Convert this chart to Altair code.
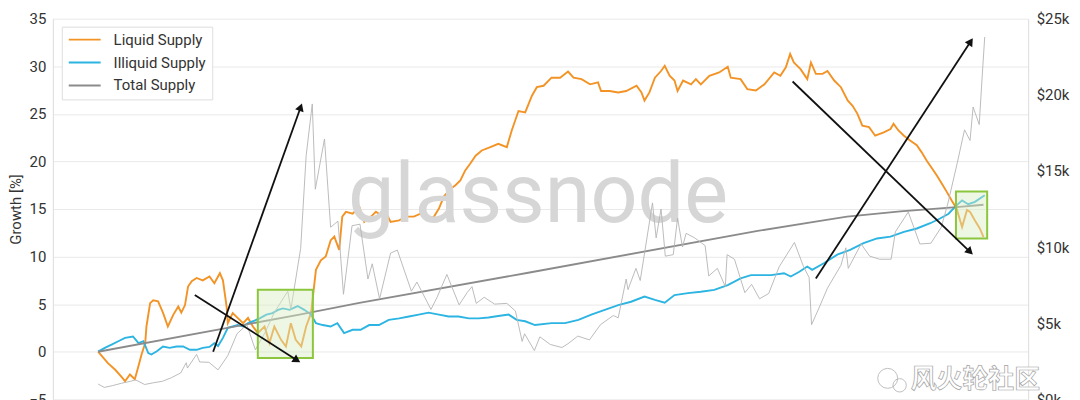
import altair as alt
import pandas as pd

START = pd.Timestamp("2017-01-01")

SERIES = ["Liquid Supply", "Illiquid Supply", "Total Supply"]
COLORS = ["#f39325", "#2cb4e2", "#8b8b8b"]
WIDTHS = [1.9, 1.9, 1.5]

# Liquid supply growth [%], sampled by day offset from 2017-01-01
LIQ_DAY = [0, 8, 16, 28, 39, 44, 52, 60, 66, 71,
           77, 79, 85, 90, 98, 106, 114, 123, 131, 136,
           142, 147, 153, 161, 171, 182, 190, 199, 204, 210,
           212, 220, 228, 237, 245, 253, 261, 272, 280, 288,
           299, 307, 315, 323, 332, 340, 348, 356, 364, 372,
           380, 386, 394, 399, 405, 416, 427, 435, 446, 454,
           462, 470, 478, 492, 503, 516, 527, 538, 549, 557,
           565, 576, 584, 592, 600, 608, 617, 627, 641, 654,
           668, 676, 687, 698, 709, 717, 728, 741, 755, 768,
           777, 790, 804, 817, 822, 836, 850, 863, 880, 888,
           893, 901, 910, 920, 926, 934, 942, 947, 956, 969,
           977, 985, 999, 1015, 1029, 1034, 1050, 1061, 1075, 1089,
           1105, 1115, 1124, 1131, 1137, 1148, 1159, 1165, 1173, 1184,
           1192, 1203, 1214, 1225, 1233, 1241, 1249, 1260, 1270, 1284,
           1295, 1300, 1308, 1317, 1327, 1338, 1346, 1354, 1363, 1371,
           1379, 1387, 1395, 1403, 1412, 1420, 1425, 1433, 1441, 1447]
LIQ_VAL = [0.0, -0.6, -1.2, -1.9, -2.7, -3.1, -2.4, -2.9, -1.5, -0.3,
           0.9, 2.65, 5.1, 5.4, 5.3, 4.1, 2.65, 3.9, 4.75, 4.1,
           4.9, 6.85, 7.4, 7.75, 7.5, 7.9, 7.2, 8.25, 7.5, 4.75,
           3.0, 4.05, 3.55, 3.0, 3.55, 2.65, 1.95, 2.65, 0.9, 2.65,
           1.25, 0.55, 3.0, 1.25, 0.55, 2.65, 4.05, 8.6, 9.6, 10.0,
           11.7, 12.1, 10.7, 14.2, 14.7, 14.5, 15.2, 13.65, 14.2, 14.7,
           14.35, 14.7, 13.65, 13.8, 14.2, 14.2, 14.5, 13.8, 14.2, 15.05,
           16.3, 17.1, 17.5, 18.0, 19.05, 19.75, 20.6, 21.15, 21.5, 21.85,
           21.5, 23.25, 25.3, 25.15, 26.9, 27.8, 27.95, 28.8, 28.8, 29.45,
           28.8, 28.65, 28.1, 28.3, 27.4, 27.4, 27.25, 27.4, 27.95, 27.25,
           26.4, 27.25, 28.8, 29.5, 30.05, 29.0, 28.5, 27.4, 28.5, 28.1,
           28.65, 28.1, 29.0, 29.35, 29.95, 28.8, 28.65, 27.6, 27.45, 28.1,
           29.35, 29.0, 29.9, 31.3, 30.4, 29.7, 28.65, 30.4, 29.2, 29.2,
           29.5, 28.5, 27.8, 26.4, 25.85, 25.0, 23.75, 23.6, 22.7, 23.05,
           23.4, 23.95, 23.25, 22.7, 22.2, 21.7, 20.95, 20.1, 19.25, 18.5,
           17.65, 16.8, 15.9, 15.05, 13.1, 14.9, 14.7, 13.8, 12.95, 12.05]

# Illiquid supply growth [%]
ILL_DAY = [0, 11, 22, 33, 44, 57, 66, 74, 82, 87,
           96, 106, 117, 128, 139, 150, 161, 171, 182, 190,
           196, 204, 212, 220, 228, 237, 245, 253, 264, 275,
           285, 294, 302, 313, 326, 337, 348, 356, 367, 380,
           391, 402, 416, 429, 443, 459, 475, 492, 508, 524,
           540, 557, 573, 589, 606, 622, 638, 654, 671, 684,
           698, 714, 741, 763, 785, 806, 828, 850, 871, 893,
           910, 926, 942, 964, 985, 1007, 1029, 1050, 1067, 1100,
           1121, 1132, 1146, 1159, 1167, 1186, 1208, 1229, 1251, 1273,
           1295, 1317, 1338, 1360, 1376, 1390, 1400, 1412, 1422, 1433, 1449]
ILL_VAL = [0.0, 0.4, 0.75, 1.1, 1.45, 1.6, 0.9, 1.1, -0.15, -0.3,
           0.05, 0.55, 0.4, 0.55, 0.55, 0.2, 0.2, 0.4, 0.5, 0.9,
           0.6, 1.45, 2.5, 2.65, 2.8, 2.65, 3.0, 3.2, 3.5, 3.9,
           4.05, 4.4, 4.55, 4.4, 4.8, 4.4, 3.9, 3.0, 2.8, 2.65,
           3.0, 1.95, 2.3, 2.3, 2.8, 2.8, 3.35, 3.5, 3.7, 3.9,
           4.1, 3.9, 3.7, 3.7, 3.5, 3.5, 3.6, 3.75, 3.9, 3.35,
           3.2, 2.8, 3.0, 3.0, 3.35, 3.9, 4.4, 4.9, 5.25, 5.8,
           5.45, 5.15, 5.95, 6.15, 6.3, 6.5, 7.0, 7.7, 8.05, 8.05,
           8.25, 7.9, 8.4, 8.95, 8.6, 9.3, 10.2, 10.7, 11.4, 11.9,
           12.1, 12.6, 12.95, 13.5, 14.0, 14.5, 15.2, 15.9, 15.5, 15.75, 16.45]

# Total supply growth [%]
TOT_DAY = [0, 329, 427, 703, 1078, 1175, 1224, 1311, 1403, 1447]
TOT_VAL = [0.0, 3.9, 5.13, 8.3, 12.7, 13.7, 14.2, 14.75, 15.2, 15.45]

# BTC price [USD] (right axis)
PRICE_DATE = ["2017-01-01", "2017-01-11", "2017-01-25", "2017-02-08", "2017-02-23",
              "2017-03-03", "2017-03-18", "2017-04-01", "2017-04-16", "2017-05-01",
              "2017-05-16", "2017-05-25", "2017-05-27", "2017-06-11", "2017-06-16",
              "2017-07-01", "2017-07-16", "2017-08-01", "2017-08-16", "2017-09-01",
              "2017-09-15", "2017-10-01", "2017-10-16", "2017-11-07", "2017-11-12",
              "2017-11-28", "2017-12-07", "2017-12-17", "2017-12-22", "2018-01-06",
              "2018-01-16", "2018-01-28", "2018-02-06", "2018-02-20", "2018-03-05",
              "2018-03-18", "2018-03-25", "2018-04-06", "2018-04-24", "2018-05-05",
              "2018-05-28", "2018-06-06", "2018-06-29", "2018-07-09", "2018-07-25",
              "2018-08-14", "2018-08-27", "2018-09-04", "2018-09-11", "2018-09-24",
              "2018-10-11", "2018-10-31", "2018-11-14", "2018-11-25", "2018-11-29",
              "2018-12-15", "2018-12-24", "2019-01-10", "2019-01-29", "2019-02-08",
              "2019-02-24", "2019-03-15", "2019-04-02", "2019-04-23", "2019-05-01",
              "2019-05-14", "2019-05-17", "2019-05-30", "2019-06-06", "2019-06-26",
              "2019-07-02", "2019-07-10", "2019-07-17", "2019-07-30", "2019-08-06",
              "2019-08-14", "2019-08-20", "2019-09-03", "2019-09-20", "2019-09-26",
              "2019-10-10", "2019-10-23", "2019-10-26", "2019-11-07", "2019-11-24",
              "2019-12-05", "2019-12-18", "2020-01-02", "2020-01-19", "2020-02-13",
              "2020-02-28", "2020-03-08", "2020-03-12", "2020-03-22", "2020-04-07",
              "2020-04-29", "2020-05-07", "2020-05-11", "2020-06-01", "2020-06-15",
              "2020-07-01", "2020-07-20", "2020-07-27", "2020-08-17", "2020-09-05",
              "2020-09-23", "2020-10-10", "2020-10-21", "2020-11-05", "2020-11-17",
              "2020-11-26", "2020-12-01", "2020-12-11", "2020-12-16", "2020-12-20"]
PRICE_USD = [1000, 780, 900, 1050, 1180,
             1280, 970, 1080, 1180, 1420,
             1730, 2400, 2050, 2950, 2450,
             2430, 1930, 2870, 4300, 4900,
             3250, 4400, 5700, 7100, 5900,
             9900, 16000, 19400, 13800, 17100,
             11300, 11700, 6900, 11400, 11500,
             7900, 8900, 6600, 9600, 9800,
             7100, 7700, 5900, 6700, 8200,
             6200, 7000, 7400, 6300, 6700,
             6250, 6300, 5800, 3800, 4300,
             3200, 4100, 3600, 3400, 3650,
             4150, 3900, 4900, 5500, 5350,
             7900, 7200, 8600, 7800, 12900,
             10600, 12500, 9400, 9500, 11900,
             10000, 10900, 10600, 10100, 8100,
             8600, 7400, 9500, 9200, 7000,
             7550, 6600, 6950, 8700, 10300,
             8700, 8000, 4900, 5800, 7300,
             8800, 9950, 8600, 10200, 9400,
             9200, 9200, 11000, 12300, 10200,
             10250, 11300, 12900, 15500, 17700,
             17000, 19200, 18050, 21300, 23800]

# Highlight boxes (day offsets and growth bounds)
BOX_START_DAY = [261, 1402]
BOX_END_DAY = [351, 1453]
BOX_LOW = [-0.65, 11.9]
BOX_HIGH = [6.5, 16.85]

# Arrows (day offsets and growth values)
ARROW_START_DAY = [188, 158, 1135, 1173]
ARROW_END_DAY = [331, 325, 1425, 1426]
ARROW_START_VAL = [0.0, 5.97, 28.4, 7.7]
ARROW_END_VAL = [25.7, -0.9, 10.5, 32.6]
ARROW_ANGLE = [19.8, 122.4, 133.8, 33.2]


def from_days(days):
    return [START + pd.Timedelta(days=int(d)) for d in days]


lines_df = pd.concat([
    pd.DataFrame({"date": from_days(LIQ_DAY), "value": LIQ_VAL, "series": SERIES[0]}),
    pd.DataFrame({"date": from_days(ILL_DAY), "value": ILL_VAL, "series": SERIES[1]}),
    pd.DataFrame({"date": from_days(TOT_DAY), "value": TOT_VAL, "series": SERIES[2]}),
], ignore_index=True)
price_df = pd.DataFrame({"date": pd.to_datetime(PRICE_DATE), "price": PRICE_USD})
box_df = pd.DataFrame({"start": from_days(BOX_START_DAY), "end": from_days(BOX_END_DAY),
                       "low": BOX_LOW, "high": BOX_HIGH})
arrow_df = pd.DataFrame({"start": from_days(ARROW_START_DAY), "end": from_days(ARROW_END_DAY),
                         "y0": ARROW_START_VAL, "y1": ARROW_END_VAL, "angle": ARROW_ANGLE})

x_scale = alt.Scale(domain=[alt.DateTime(year=2016, month=10, date=19),
                            alt.DateTime(year=2021, month=3, date=1)])


def y_scale():
    return alt.Scale(domain=[-5, 35], nice=False)


lines = alt.Chart(lines_df).mark_line().encode(
    x=alt.X("date:T", scale=x_scale, axis=None),
    y=alt.Y("value:Q", scale=y_scale(),
            axis=alt.Axis(orient="left", values=list(range(-5, 40, 5)), title="Growth [%]",
                          grid=True, labelPadding=7, titlePadding=5, titleFontSize=15,
                          titleFont="Roboto", titleFontWeight="normal",
                          titleColor="#333333")),
    color=alt.Color("series:N", scale=alt.Scale(domain=SERIES, range=COLORS),
                    legend=alt.Legend(title=None, orient="none", legendX=9, legendY=8,
                                      symbolType="stroke", symbolSize=1024,
                                      symbolStrokeWidth=1.6, clipHeight=14, rowPadding=8,
                                      labelFont="Roboto", labelFontSize=15,
                                      labelColor="#333333", labelOffset=12, padding=6,
                                      strokeColor="#dedede", fillColor="#ffffff")),
    strokeWidth=alt.StrokeWidth("series:N", scale=alt.Scale(domain=SERIES, range=WIDTHS),
                                legend=None),
)

price = alt.Chart(price_df).mark_line(color="#b4b4b4", strokeWidth=0.9).encode(
    x=alt.X("date:T", scale=x_scale, axis=None),
    y=alt.Y("price:Q", scale=alt.Scale(domain=[0, 25000], nice=False),
            axis=alt.Axis(orient="right", values=[0, 5000, 10000, 15000, 20000, 25000],
                          format="$~s", title=None, grid=False, labelPadding=8)),
)

boxes = alt.Chart(box_df).mark_rect(fill="#d8eec0", fillOpacity=0.45, stroke="#8cc63e",
                                    strokeWidth=2).encode(
    x=alt.X("start:T", scale=x_scale, axis=None), x2="end:T",
    y=alt.Y("low:Q", scale=y_scale(), axis=None), y2="high:Q",
)

arrows = alt.Chart(arrow_df).mark_rule(color="#111111", strokeWidth=1.8).encode(
    x=alt.X("start:T", scale=x_scale, axis=None), x2="end:T",
    y=alt.Y("y0:Q", scale=y_scale(), axis=None), y2="y1:Q",
)

heads = alt.Chart(arrow_df).mark_point(shape="triangle-up", filled=True, color="#111111",
                                       size=80, opacity=1).encode(
    x=alt.X("end:T", scale=x_scale, axis=None),
    y=alt.Y("y1:Q", scale=y_scale(), axis=None),
    angle=alt.Angle("angle:Q", scale=None),
)

watermark = alt.Chart(pd.DataFrame({"t": ["glassnode"]})).mark_text(
    font="Roboto", fontSize=83, fontWeight="normal", color="#d6d6d6",
    align="center", baseline="alphabetic").encode(
    text="t:N", x=alt.value(487), y=alt.value(203.7))

wechat = alt.Chart(pd.DataFrame({"t": ["风火轮社区"]})).mark_text(
    font="Noto Sans CJK SC", fontSize=26, fontWeight="bold", fill="#ffffff",
    stroke="#a3a3a3", strokeWidth=0.7, align="center", baseline="middle").encode(
    text="t:N", x=alt.value(926), y=alt.value(362.5))

icon_big = alt.Chart(pd.DataFrame({"k": [0]})).mark_point(
    shape="circle", filled=False, stroke="#a5a5a5", strokeWidth=1, size=400).encode(
    x=alt.value(838), y=alt.value(361))
icon_small = alt.Chart(pd.DataFrame({"k": [0]})).mark_point(
    shape="circle", filled=False, stroke="#a5a5a5", strokeWidth=1, size=180).encode(
    x=alt.value(850), y=alt.value(368))

chart = alt.layer(
    lines, watermark, price, boxes, arrows, heads, wechat, icon_big, icon_small
).resolve_scale(y="independent").properties(
    width=979, height=382,
    padding={"left": 45, "top": 10, "right": 44, "bottom": 0},
    autosize=alt.AutoSizeParams(type="none"),
).configure_view(stroke=None).configure_axis(
    labelFont="Roboto", labelFontSize=15, labelColor="#333333",
    titleFont="Roboto", titleFontSize=15, titleFontWeight="normal", titleColor="#333333",
    ticks=False, tickSize=0, domainColor="#dcdcdc", gridColor="#e9e9e9",
)

chart.save("out.html", embed_options={"renderer": "svg", "actions": False})
